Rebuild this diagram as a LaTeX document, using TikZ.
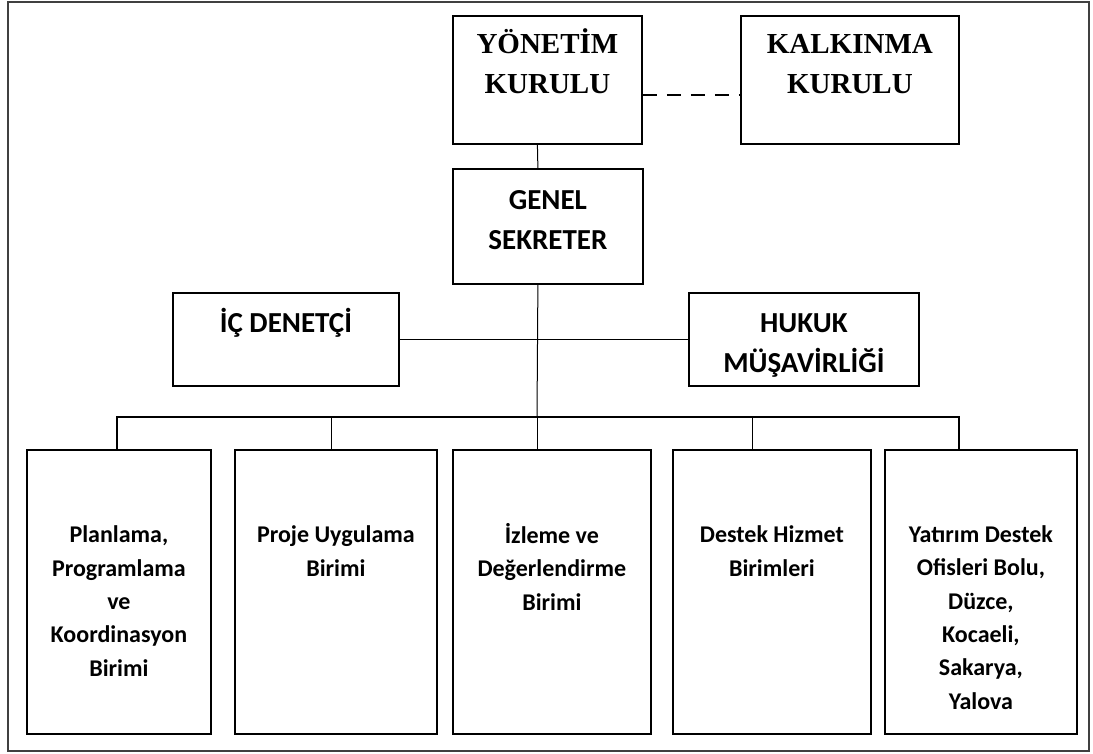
\documentclass[tikz,border=0pt]{standalone}
\usepackage{fontspec}
\setmainfont{Liberation Serif}
\newfontfamily\calibri{Carlito}

\tikzset{
  box/.style={draw, line width=1.8pt, anchor=north west, inner sep=0pt},
  unitbox/.style={box, minimum height=284pt},
  headtext/.style={anchor=base, align=center, font=\fontsize{29}{39.5}\selectfont\bfseries},
  chieftext/.style={anchor=base, align=center, font=\calibri\fontsize{29}{40}\selectfont\bfseries},
  unittext/.style={anchor=base, align=center, font=\calibri\fontsize{24}{33.3}\selectfont\bfseries},
  thinlink/.style={line width=1pt},
  buslink/.style={line width=1.8pt},
  dashlink/.style={line width=1.5pt, dash pattern=on 14pt off 10pt}
}

\begin{document}
\begin{tikzpicture}[x=1pt,y=-1pt]
  \useasboundingbox (0,0) rectangle (1093,753);
  % frame
  \draw[line width=1.5pt, draw=black!75] (8,2) rectangle (1089,751);

  % boards (base = last line)
  \node[box, minimum width=189pt, minimum height=128pt] (yon) at (452,15) {};
  \node[box, minimum width=218pt, minimum height=128pt] (kalk) at (740,15) {};
  \node[headtext] (yonT) at ([yshift=-78pt]yon.north) {YÖNETİM\\KURULU};
  \node[headtext] (kalkT) at ([yshift=-78pt]kalk.north) {KALKINMA\\KURULU};

  % secretary general and advisors
  \node[box, minimum width=190pt, minimum height=115pt] (genel) at (452,168) {};
  \node[chieftext] (genelT) at ([yshift=-81pt]genel.north) {GENEL\\SEKRETER};
  \node[box, minimum width=226pt, minimum height=93pt] (ic) at (172,292) {};
  \node[chieftext] (icT) at ([yshift=-40pt]ic.north) {İÇ DENETÇİ};
  \node[box, minimum width=230pt, minimum height=93pt] (hukuk) at (688,292) {};
  \node[chieftext] (hukukT) at ([yshift=-80pt]hukuk.north) {HUKUK\\MÜŞAVİRLİĞİ};

  % units
  \node[unitbox, minimum width=184pt] (plan) at (26,449) {};
  \node[unitbox, minimum width=202pt] (proje) at (234,449) {};
  \node[unitbox, minimum width=198pt] (izleme) at (452,449) {};
  \node[unitbox, minimum width=198pt] (destek) at (672,449) {};
  \node[unitbox, minimum width=192pt] (yatirim) at (884,449) {};
  \node[unittext] (planT) at ([yshift=-227pt]plan.north) {Planlama,\\Programlama\\ve\\Koordinasyon\\Birimi};
  \node[unittext] (projeT) at ([yshift=-127pt]proje.north) {Proje Uygulama\\Birimi};
  \node[unittext] (izlemeT) at ([yshift=-161pt]izleme.north) {İzleme ve\\Değerlendirme\\Birimi};
  \node[unittext] (destekT) at ([yshift=-127pt]destek.north) {Destek Hizmet\\Birimleri};
  \node[unittext] (yatirimT) at ([yshift=-260pt]yatirim.north) {Yatırım Destek\\Ofisleri Bolu,\\Düzce,\\Kocaeli,\\Sakarya,\\Yalova};

  % connectors
  \draw[dashlink] ([yshift=-15pt]yon.east) -- ([yshift=-15pt]kalk.west);
  \draw[thinlink] ([xshift=-10pt]yon.south) -- ([xshift=-10pt]genel.north);
  \coordinate (bus) at (537,417);
  \draw[thinlink] ([xshift=-10pt]genel.south) -- (bus);
  \draw[buslink] (ic.east) -- (hukuk.west);

  \coordinate (d1) at ([xshift=-2pt]plan.north);
  \coordinate (d2) at ([xshift=-4pt]proje.north);
  \coordinate (d4) at ([xshift=-19pt]destek.north);
  \coordinate (d5) at ([xshift=-22pt]yatirim.north);
  \draw[buslink] (d1) |- (bus) -| (d5);
  \draw[thinlink] (d2) -- (d2 |- bus);
  \draw[thinlink] (bus) -- (izleme.north -| bus);
  \draw[thinlink] (d4) -- (d4 |- bus);
\end{tikzpicture}
\end{document}
